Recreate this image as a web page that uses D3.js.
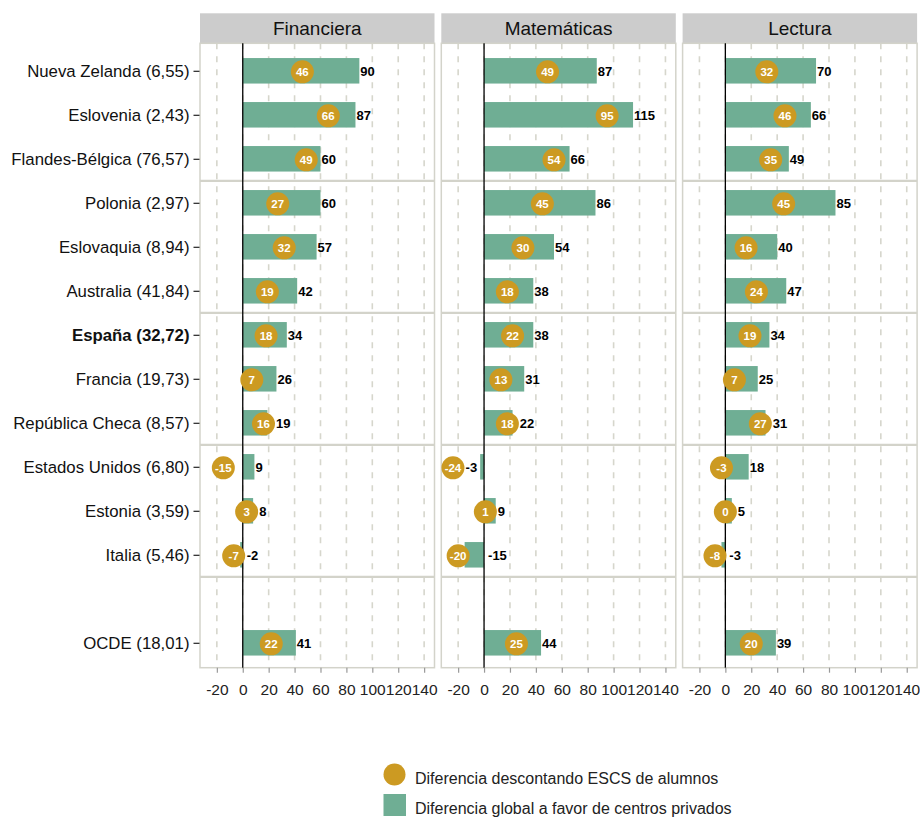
<!DOCTYPE html>
<html>
<head>
<meta charset="utf-8">
<script src="https://cdn.jsdelivr.net/npm/d3@7"></script>
<style>
  html, body { margin: 0; padding: 0; background: #ffffff; }
  svg { display: block; font-family: "Liberation Sans", Arial, sans-serif; }
</style>
</head>
<body>
<svg id="chart" width="920" height="818"></svg>
<script>
// ---------------- data ----------------
const countries = [
  "Nueva Zelanda (6,55)", "Eslovenia (2,43)", "Flandes-Bélgica (76,57)",
  "Polonia (2,97)", "Eslovaquia (8,94)", "Australia (41,84)",
  "España (32,72)", "Francia (19,73)", "República Checa (8,57)",
  "Estados Unidos (6,80)", "Estonia (3,59)", "Italia (5,46)",
  "OCDE (18,01)"
];
const boldCountry = "España (32,72)";
const subjects = ["Financiera", "Matemáticas", "Lectura"];

const globalFinanciera  = [90, 87, 60, 60, 57, 42, 34, 26, 19, 9, 8, -2, 41];
const escsFinanciera    = [46, 66, 49, 27, 32, 19, 18, 7, 16, -15, 3, -7, 22];
const globalMatematicas = [87, 115, 66, 86, 54, 38, 38, 31, 22, -3, 9, -15, 44];
const escsMatematicas   = [49, 95, 54, 45, 30, 18, 22, 13, 18, -24, 1, -20, 25];
const globalLectura     = [70, 66, 49, 85, 40, 47, 34, 25, 31, 18, 5, -3, 39];
const escsLectura       = [32, 46, 35, 45, 16, 24, 19, 7, 27, -3, 0, -8, 20];

const xTicks = [-20, 0, 20, 40, 60, 80, 100, 120, 140];
const legendLabels = ["Diferencia descontando ESCS de alumnos", "Diferencia global a favor de centros privados"];
// labels pushed to the left of the bar (repelled in the original)
const leftLabels = [["Matemáticas", "Estados Unidos (6,80)"]];

// ---------------- layout ----------------
const GAP = "__gap__";
const rows = countries.slice(0, 12).concat([GAP], countries.slice(12));
const groupEnds = [2, 5, 8, 11]; // separators after these row indices

const panelTop = 43.3, panelBottom = 667.7, stripTop = 13.3;
const panelX0 = 200, panelStep = 241.3, panelW = 234.5;
const barColor = "#6fae94", dotColor = "#cc9a22", borderColor = "#d3d3ca", gridColor = "#d6d6cc";

const panelData = [
  { name: subjects[0], glob: globalFinanciera,  escs: escsFinanciera },
  { name: subjects[1], glob: globalMatematicas, escs: escsMatematicas },
  { name: subjects[2], glob: globalLectura,     escs: escsLectura }
];

const svg = d3.select("#chart");

const y = d3.scalePoint().domain(rows).range([70.8, 70.8 + 44 * (rows.length - 1)]);
const barH = 25.5;
const r = 11.5;

panelData.forEach((p, pi) => {
  const x0 = panelX0 + panelStep * pi;
  const x = d3.scaleLinear().domain([-33, 148]).range([x0, x0 + panelW]);
  const g = svg.append("g");

  // strip
  g.append("rect").attr("x", x0).attr("y", stripTop).attr("width", panelW)
    .attr("height", panelTop - stripTop).attr("fill", "#cccccc");
  g.append("text").attr("x", x0 + panelW / 2).attr("y", (stripTop + panelTop) / 2)
    .attr("dy", "0.36em").attr("text-anchor", "middle")
    .attr("font-size", 19).attr("fill", "#111").text(p.name);

  // grid (dashed)
  g.append("g").selectAll("line").data(xTicks).join("line")
    .attr("x1", d => x(d)).attr("x2", d => x(d))
    .attr("y1", panelTop).attr("y2", panelBottom)
    .attr("stroke", gridColor).attr("stroke-width", 1.6)
    .attr("stroke-dasharray", "6,7");

  // panel border
  g.append("rect").attr("x", x0).attr("y", panelTop).attr("width", panelW)
    .attr("height", panelBottom - panelTop).attr("fill", "none")
    .attr("stroke", borderColor).attr("stroke-width", 1.5);

  // group separators
  g.append("g").selectAll("line").data(groupEnds).join("line")
    .attr("x1", x0).attr("x2", x0 + panelW)
    .attr("y1", d => (y(rows[d]) + y(rows[d + 1])) / 2)
    .attr("y2", d => (y(rows[d]) + y(rows[d + 1])) / 2)
    .attr("stroke", borderColor).attr("stroke-width", 2.2);

  const data = countries.map((c, i) => ({ c, g: p.glob[i], e: p.escs[i] }));

  // bars
  g.append("g").selectAll("rect").data(data).join("rect")
    .attr("x", d => x(Math.min(0, d.g)))
    .attr("width", d => Math.abs(x(d.g) - x(0)))
    .attr("y", d => y(d.c) - barH / 2)
    .attr("height", barH)
    .attr("fill", barColor);

  // zero line
  g.append("line").attr("x1", x(0)).attr("x2", x(0))
    .attr("y1", panelTop).attr("y2", panelBottom)
    .attr("stroke", "#000").attr("stroke-width", 1.3);

  // dots
  g.append("g").selectAll("circle").data(data).join("circle")
    .attr("cx", d => x(d.e)).attr("cy", d => y(d.c) + 1)
    .attr("r", r).attr("fill", dotColor);

  g.append("g").selectAll("text").data(data).join("text")
    .attr("x", d => x(d.e)).attr("y", d => y(d.c) + 1)
    .attr("dy", "0.36em").attr("text-anchor", "middle")
    .attr("font-size", 11.5).attr("font-weight", "bold").attr("fill", "#fff")
    .text(d => String(d.e));

  // value labels
  const isLeft = d => leftLabels.some(l => l[0] === p.name && l[1] === d.c);
  g.append("g").selectAll("text").data(data).join("text")
    .attr("x", d => {
      if (isLeft(d)) return x(d.g) - 3;
      const base = x(Math.max(0, d.g)) + (d.g < 0 ? 4 : 1);
      return Math.max(base, x(d.e) + r + 1);
    })
    .attr("y", d => y(d.c) + 1)
    .attr("dy", "0.36em")
    .attr("text-anchor", d => isLeft(d) ? "end" : "start")
    .attr("font-size", 13).attr("font-weight", "bold").attr("fill", "#000")
    .text(d => String(d.g));

  // x axis
  const ax = g.append("g").attr("transform", `translate(0,${panelBottom})`)
    .call(d3.axisBottom(x).tickValues(xTicks).tickSize(5).tickPadding(11).tickFormat(d => String(d)));
  ax.select(".domain").remove();
  ax.selectAll(".tick line").attr("stroke", "#999").attr("stroke-width", 1.2);
  ax.selectAll(".tick text").attr("font-size", 15.5).attr("fill", "#222")
    .attr("font-family", "Liberation Sans, Arial, sans-serif");
});

// y axis
const ay = svg.append("g").attr("transform", `translate(${panelX0 - 0.5},0)`)
  .call(d3.axisLeft(y).tickValues(countries).tickSize(6).tickPadding(4));
ay.select(".domain").remove();
ay.selectAll(".tick line").attr("stroke", "#222").attr("stroke-width", 1.2);
ay.selectAll(".tick text").attr("font-size", 16.8).attr("fill", "#111")
  .attr("font-family", "Liberation Sans, Arial, sans-serif")
  .attr("font-weight", d => d === boldCountry ? "bold" : "normal");

// legend
const leg = svg.append("g");
leg.append("circle").attr("cx", 394.5).attr("cy", 774.5).attr("r", 11).attr("fill", dotColor);
leg.append("rect").attr("x", 383.5).attr("y", 794).attr("width", 22.5).attr("height", 22).attr("fill", barColor);
leg.selectAll("text.lg").data(legendLabels).join("text").attr("class", "lg")
  .attr("x", 415).attr("y", (d, i) => 778 + i * 30).attr("dy", "0.36em")
  .attr("font-size", 16).attr("fill", "#222").text(d => d);
</script>
</body>
</html>
